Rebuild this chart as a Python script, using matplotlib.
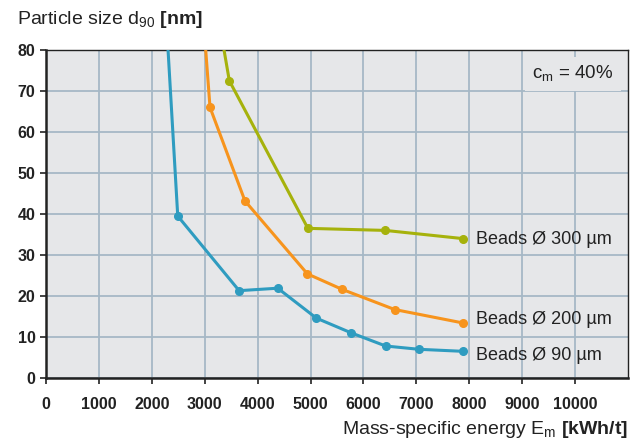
import numpy as np
import matplotlib.pyplot as plt

plt.rcParams['font.family'] = ['Liberation Sans', 'DejaVu Sans']
plt.rcParams['mathtext.fontset'] = 'custom'
plt.rcParams['mathtext.rm'] = 'Liberation Sans'
plt.rcParams['mathtext.bf'] = 'Liberation Sans:bold'

# data (first point of each curve lies above the plot)
energy_90 = [1990, 2490, 3650, 4380, 5110, 5770, 6420, 7050, 7890]
size_90 = [150, 39.5, 21.3, 21.9, 14.6, 11.0, 7.8, 7.0, 6.5]

energy_200 = [2610, 3100, 3760, 4940, 5600, 6590, 7890]
size_200 = [150, 66.0, 43.2, 25.4, 21.6, 16.7, 13.4]

energy_300 = [2430, 3465, 4950, 6410, 7880]
size_300 = [150, 72.5, 36.5, 36.0, 34.0]

labels = ['Beads Ø 90 µm', 'Beads Ø 200 µm', 'Beads Ø 300 µm']
label_y = [5.4, 14.3, 33.9]

xticks = list(range(0, 11000, 1000))
yticks = list(range(0, 90, 10))

blue = '#2f9cc0'
orange = '#f7941d'
green = '#a6b20c'
bg = '#e6e7e9'
gridc = '#a6b8c6'
txt = '#222222'

fig = plt.figure(figsize=(6.38, 4.44), dpi=100)
ax = fig.add_axes([46/638, 66/444, 582/638, 328/444])
ax.set_facecolor(bg)

ax.set_xlim(0, 11000)
ax.set_ylim(0, 80)
ax.set_xticks(xticks)
ax.set_yticks(yticks)
ax.grid(True, color=gridc, linewidth=1.3)
ax.set_axisbelow(True)

for e, s, c in [(energy_90, size_90, blue), (energy_200, size_200, orange),
                (energy_300, size_300, green)]:
    ax.plot(e[1:], s[1:], color=c, lw=2.2, marker='o', ms=5.5, zorder=3)
    ax.plot(e[:2], s[:2], color=c, lw=2.2, zorder=3)

for lab, yy in zip(labels, label_y):
    ax.text(8130, yy, lab, fontsize=13, color=txt, va='center', ha='left')

ax.text(9960, 74.2, r'c$_{\mathrm{m}}$ = 40%', fontsize=13.5, color=txt,
        ha='center', va='center',
        bbox=dict(facecolor=bg, edgecolor='none', pad=5))

for sp in ax.spines.values():
    sp.set_color(txt)
    sp.set_linewidth(1.0)
ax.spines['left'].set_linewidth(1.8)
ax.spines['bottom'].set_linewidth(1.8)

ax.tick_params(axis='both', length=4, width=1.2, color=txt,
               labelsize=11.5, labelcolor=txt)
ax.tick_params(axis='x', pad=10)
for t in ax.get_xticklabels() + ax.get_yticklabels():
    t.set_fontweight('bold')

fig.text(17/638, 1 - 24/444, r'Particle size d$_{90}$ $\mathbf{[nm]}$', fontsize=14,
         color=txt, ha='left', va='baseline')
fig.text(628/638, 1 - 434/444, r'Mass-specific energy E$_{\mathrm{m}}$ $\mathbf{[kWh/t]}$',
         fontsize=14, color=txt, ha='right', va='baseline')

fig.savefig('out.png', dpi=100, facecolor='white')
